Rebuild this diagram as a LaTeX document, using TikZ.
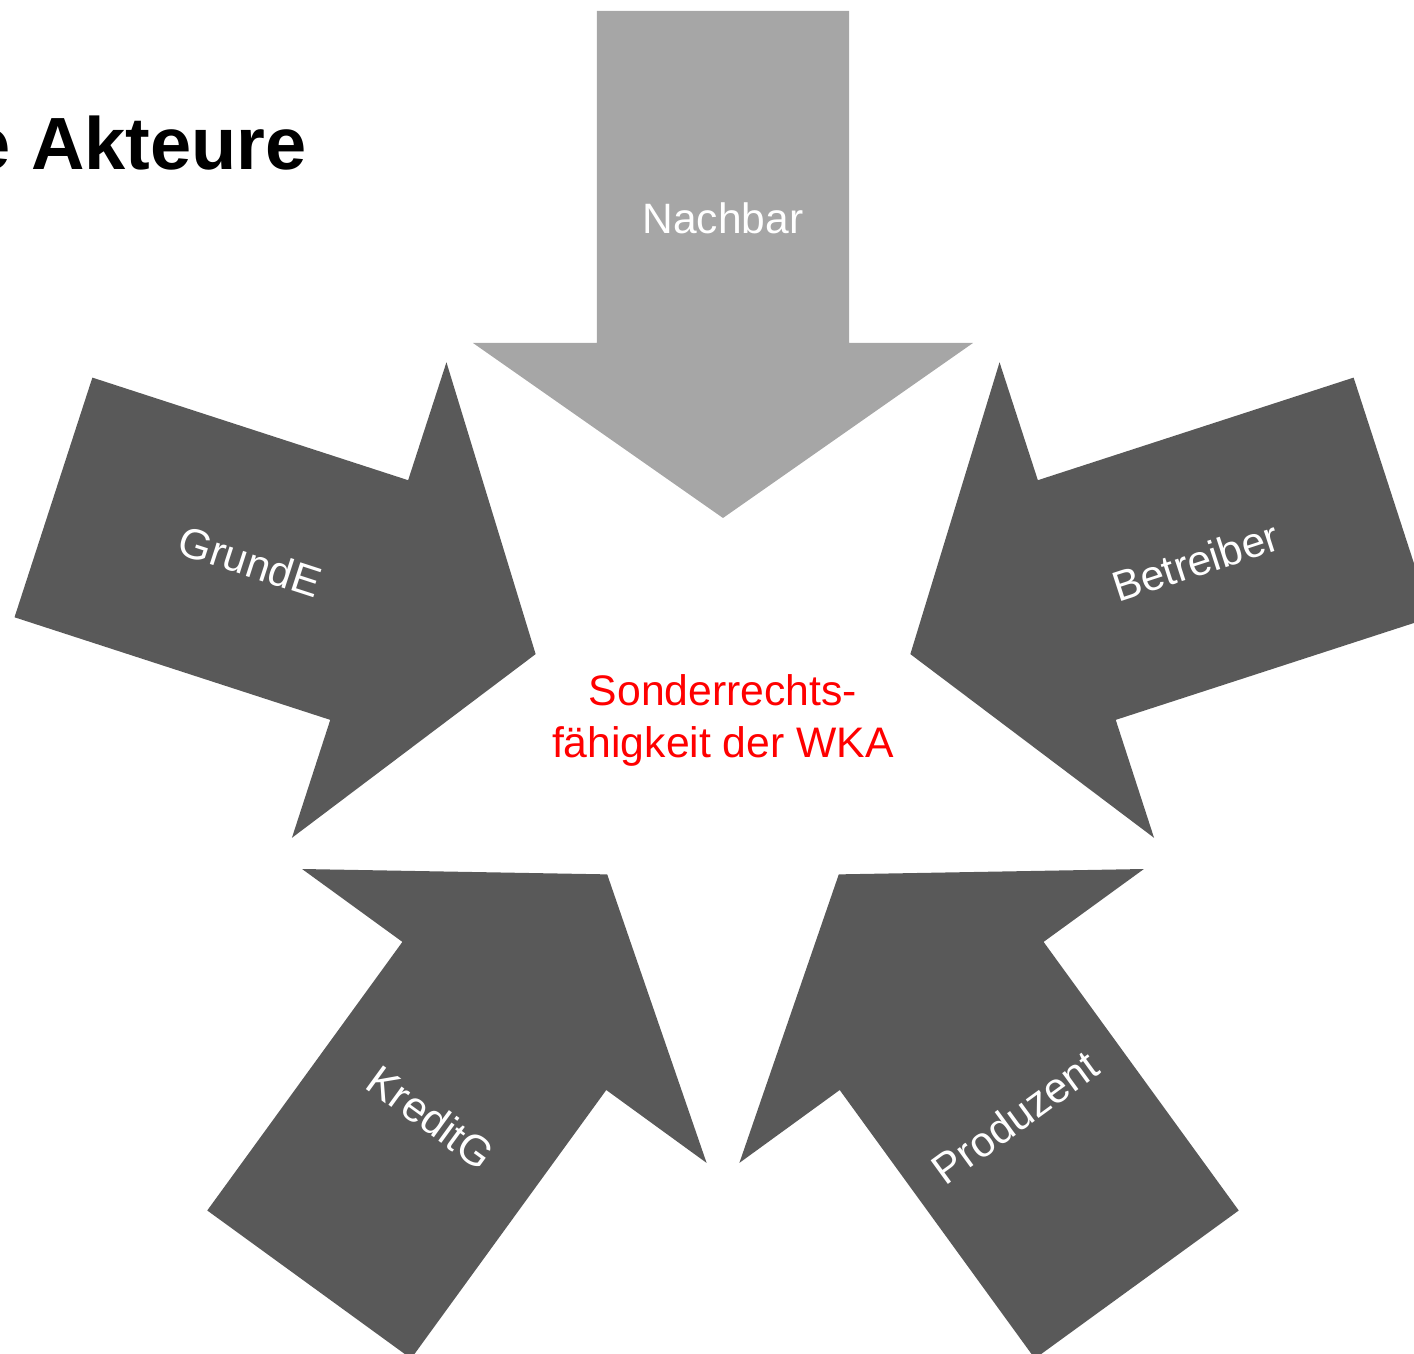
\documentclass[tikz,border=0pt]{standalone}
\usepackage{fontspec}
\setmainfont{Liberation Sans}
\definecolor{arrowdark}{HTML}{595959}
\definecolor{arrowlight}{HTML}{A6A6A6}
\definecolor{focusred}{HTML}{FF0000}
\begin{document}
\begin{tikzpicture}[x=1pt,y=1pt,
  actorlabel/.style={text=white, font=\fontsize{42.5}{50}\selectfont,
    inner sep=0pt, text height=30.4pt, text depth=0pt},
  corelabel/.style={text=focusred, font=\fontsize{42.7}{52}\selectfont,
    align=center, inner sep=0pt},
  titlelabel/.style={font=\fontsize{74}{88}\selectfont\bfseries,
    inner sep=0pt, anchor=base east}]
% page frame; the origin is the common centre of the five arrows
\useasboundingbox (-723,-639) rectangle (691,715);
\clip (-723,-639) rectangle (691,715);

\node[titlelabel] (title) at (-416,545) {e Akteure};

% five block arrows, all pointing to the centre
\foreach \rot/\col in {0/arrowlight, 72/arrowdark, -72/arrowdark,
                       144/arrowdark, -144/arrowdark}
  \fill[\col, rotate=\rot]
    (0,197) -- (250,372) -- (126,372) -- (126,704)
    -- (-126,704) -- (-126,372) -- (-250,372) -- cycle;

\node[actorlabel] (nachbar) at (90:497) {Nachbar};
\node[actorlabel, rotate=-18] (grunde) at (162:497) {GrundE};
\node[actorlabel, rotate=18] (betreiber) at (18:497) {Betreiber};
\node[actorlabel, rotate=-36] (kreditg) at (234:497) {KreditG};
\node[actorlabel, rotate=36] (produzent) at (-54:497) {Produzent};

\node[corelabel] (wka) at (0,-5) {Sonderrechts-\\fähigkeit der WKA};
\end{tikzpicture}
\end{document}
